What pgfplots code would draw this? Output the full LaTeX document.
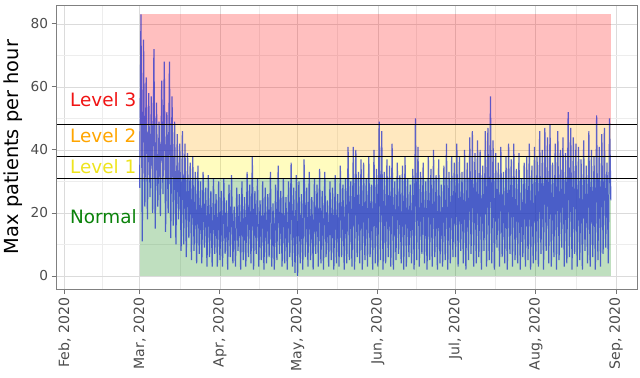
\documentclass[border=0pt]{standalone}
\usepackage{pgfplots}
\pgfplotsset{compat=1.18}
\usepackage{pgfplotstable}
\usepackage{fontspec}
\setmainfont{DejaVu Sans}

\definecolor{lvlred}{RGB}{240,20,20}
\definecolor{lvlorange}{RGB}{255,165,0}
\definecolor{lvlyellow}{RGB}{238,228,30}
\definecolor{lvlgreen}{RGB}{10,130,10}
\definecolor{dataline}{RGB}{30,45,205}

\pgfplotstableread{
x y
29 28
29.5 83
30 11
30.5 75
31 22
31.5 63
32 18
32.5 58
33 25
33.5 57
34 20
34.5 72
35 15
35.5 55
36 22
36.5 49
37 19
37.5 62
38 26
38.5 68
39 14
39.5 52
40 20
40.5 68
41 12
41.5 57
42 16
42.5 49
43 10
43.5 45
44 18
44.5 42
45 8
45.5 46
46 10
46.5 42
47 6
47.5 39
48 12
48.5 36
49 5
49.5 38
50 8
50.5 33
51 4
51.5 35
52 7
52.5 30
53 4
53.5 33
54 9
54.5 28
55 3
55.5 32
56 6
56.5 27
57 3
57.5 31
58 7
58.5 26
59 3
59.5 30
60 5
60.5 27
61 3
61.5 31
62 7
62.5 24
63 2
63.5 29
64 6
64.5 32
65 4
65.5 22
66 3
66.5 28
67 8
67.5 26
68 2
68.5 30
69 5
69.5 25
70 3
70.5 33
71 6
71.5 29
72 4
72.5 38
73 2
73.5 27
74 7
74.5 31
75 3
75.5 24
76 5
76.5 30
77 2
77.5 28
78 4
78.5 26
79 6
79.5 33
80 3
80.5 23
81 2
81.5 29
82 5
82.5 35
83 7
83.5 27
84 3
84.5 31
85 4
85.5 25
86 2
86.5 30
87 6
87.5 36
88 3
88.5 28
89 1
89.5 32
90 0
90.5 30
91 4
91.5 26
92 2
92.5 37
93 6
93.5 28
94 3
94.5 33
95 5
95.5 25
96 2
96.5 31
97 7
97.5 29
98 3
98.5 34
99 4
99.5 27
100 2
100.5 33
101 6
101.5 24
102 3
102.5 30
103 5
103.5 28
104 2
104.5 32
105 4
105.5 26
106 3
106.5 35
107 6
107.5 29
108 2
108.5 31
109 4
109.5 41
110 5
110.5 30
111 3
111.5 41
112 2
112.5 40
113 6
113.5 33
114 4
114.5 37
115 2
115.5 36
116 5
116.5 31
117 3
117.5 38
118 6
118.5 29
119 2
119.5 40
120 4
120.5 34
121 3
121.5 49
122 5
122.5 46
123 2
123.5 33
124 4
124.5 37
125 6
125.5 35
126 3
126.5 42
127 2
127.5 30
128 5
128.5 36
129 7
129.5 32
130 4
130.5 35
131 2
131.5 38
132 3
132.5 31
133 6
133.5 29
134 4
134.5 34
135 2
135.5 50
136 5
136.5 41
137 3
137.5 33
138 7
138.5 36
139 4
139.5 30
140 2
140.5 38
141 5
141.5 34
142 3
142.5 40
143 6
143.5 32
144 2
144.5 37
145 4
145.5 29
146 3
146.5 35
147 5
147.5 42
148 2
148.5 33
149 4
149.5 38
150 6
150.5 36
151 6
151.5 42
152 3
152.5 38
153 8
153.5 33
154 4
154.5 40
155 2
155.5 36
156 5
156.5 44
157 7
157.5 46
158 3
158.5 39
159 4
159.5 43
160 6
160.5 40
161 2
161.5 35
162 8
162.5 46
163 3
163.5 47
164 5
164.5 57
165 4
165.5 43
166 2
166.5 39
167 9
167.5 36
168 3
168.5 41
169 6
169.5 33
170 4
170.5 38
171 2
171.5 42
172 7
172.5 37
173 3
173.5 42
174 5
174.5 34
175 4
175.5 39
176 2
176.5 31
177 6
177.5 36
178 3
178.5 38
179 5
179.5 42
180 2
180.5 35
181 4
181.5 41
182 5
182.5 38
183 3
183.5 46
184 7
184.5 40
185 2
185.5 47
186 8
186.5 44
187 4
187.5 48
188 3
188.5 36
189 6
189.5 42
190 2
190.5 46
191 5
191.5 40
192 9
192.5 44
193 3
193.5 39
194 4
194.5 52
195 6
195.5 47
196 2
196.5 44
197 7
197.5 42
198 3
198.5 41
199 5
199.5 37
200 2
200.5 43
201 8
201.5 35
202 4
202.5 46
203 3
203.5 40
204 6
204.5 38
205 2
205.5 51
206 5
206.5 41
207 3
207.5 45
208 7
208.5 47
209 9
209.5 36
210 4
210.5 50
211 24
}\patients

\begin{document}
\begin{tikzpicture}
\begin{axis}[
  scale only axis,
  width=582bp, height=285bp,
  xmin=-3.1, xmax=221.1,
  ymin=-4.2, ymax=86,
  xtick={0,29,60,90,121,151,182,213},
  xticklabels={{Feb, 2020},{Mar, 2020},{Apr, 2020},{May, 2020},{Jun, 2020},{Jul, 2020},{Aug, 2020},{Sep, 2020}},
  minor xtick={14.5,44.5,75,105.5,136,166.5,197.5},
  ytick={0,20,40,60,80},
  minor ytick={10,30,50,70},
  grid=both,
  major grid style={color=black!14, line width=0.7bp},
  minor grid style={color=black!7, line width=0.5bp},
  tick align=outside,
  xtick pos=lower, ytick pos=left,
  major tick length=5bp, minor tick length=0pt,
  axis line style={black!50, line width=0.9bp},
  tick style={black!55, line width=0.9bp},
  /pgf/number format/assume math mode=true,
  xticklabel style={rotate=90, anchor=east, font=\fontsize{14.2}{15}\selectfont, text=black!70},
  yticklabel style={font=\fontsize{13.8}{14}\selectfont, text=black!70},
  ylabel={Max patients per hour},
  ylabel style={font=\fontsize{19.5}{20}\selectfont, at={(axis description cs:-0.0756,0.5)}, anchor=center},
]
% threshold regions
\addplot[draw=none, fill=red, fill opacity=0.25] coordinates {(29,48) (211,48) (211,83) (29,83)} -- cycle;
\addplot[draw=none, fill=lvlorange, fill opacity=0.25] coordinates {(29,38) (211,38) (211,48) (29,48)} -- cycle;
\addplot[draw=none, fill=yellow, fill opacity=0.25] coordinates {(29,31) (211,31) (211,38) (29,38)} -- cycle;
\addplot[draw=none, fill=green!50!black, fill opacity=0.25] coordinates {(29,0) (211,0) (211,31) (29,31)} -- cycle;
% data
\addplot[dataline, line width=1.2bp, opacity=0.72, mark=none, line join=miter, miter limit=1] table[x=x, y=y] {\patients};
% thresholds
\addplot[black, line width=0.8bp, mark=none] coordinates {(-3.1,31) (221.1,31)};
\addplot[black, line width=0.8bp, mark=none] coordinates {(-3.1,38) (221.1,38)};
\addplot[black, line width=0.8bp, mark=none] coordinates {(-3.1,48) (221.1,48)};
% labels
\node[anchor=west, text=lvlred, font=\fontsize{18.5}{19}\selectfont] at (axis cs:0.8,56) {Level 3};
\node[anchor=west, text=lvlorange, font=\fontsize{18.5}{19}\selectfont] at (axis cs:0.8,44.6) {Level 2};
\node[anchor=west, text=lvlyellow, font=\fontsize{18.5}{19}\selectfont] at (axis cs:0.8,34.8) {Level 1};
\node[anchor=west, text=lvlgreen, font=\fontsize{18.5}{19}\selectfont] at (axis cs:0.8,18.7) {Normal};
\end{axis}
\path (-55bp,-89bp) rectangle (585bp,290bp);
\end{tikzpicture}
\end{document}
